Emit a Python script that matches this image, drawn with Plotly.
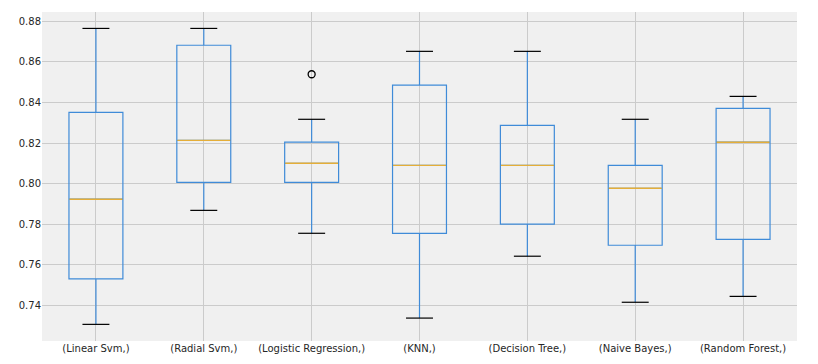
import plotly.graph_objects as go

categories = ["(Linear Svm,)", "(Radial Svm,)", "(Logistic Regression,)", "(KNN,)",
              "(Decision Tree,)", "(Naive Bayes,)", "(Random Forest,)"]
lower_whisker = [0.7306, 0.7868, 0.7755, 0.7337, 0.7642, 0.7415, 0.7444]
q1 = [0.7530, 0.8006, 0.8006, 0.7755, 0.7800, 0.7696, 0.7725]
median = [0.7923, 0.8213, 0.8100, 0.8090, 0.8090, 0.7977, 0.8204]
q3 = [0.8351, 0.8682, 0.8204, 0.8485, 0.8287, 0.8090, 0.8371]
upper_whisker = [0.8765, 0.8765, 0.8317, 0.8652, 0.8652, 0.8317, 0.8430]
outlier_cat = [2]
outlier_val = [0.8539]
yticks = [0.74, 0.76, 0.78, 0.80, 0.82, 0.84, 0.86, 0.88]

BLUE = "#3f8bd8"
ORANGE = "#e5ae38"
BOX_W = 0.5
CAP_W = 0.25

pos = list(range(1, len(categories) + 1))

fig = go.Figure()
fig.add_trace(go.Box(
    x=pos, q1=q1, median=median, q3=q3,
    lowerfence=lower_whisker, upperfence=upper_whisker,
    width=BOX_W, whiskerwidth=0,
    line=dict(color=BLUE, width=1.2),
    fillcolor="rgba(0,0,0,0)",
    boxpoints=False, showlegend=False, hoverinfo="skip",
))

# medians
mx, my = [], []
for p, m in zip(pos, median):
    mx += [p - BOX_W / 2 + 0.005, p + BOX_W / 2 - 0.005, None]
    my += [m, m, None]
fig.add_trace(go.Scatter(x=mx, y=my, mode="lines",
                         line=dict(color=ORANGE, width=1.4),
                         showlegend=False, hoverinfo="skip"))

# caps
cx, cy = [], []
for p, lo, hi in zip(pos, lower_whisker, upper_whisker):
    cx += [p - CAP_W / 2, p + CAP_W / 2, None, p - CAP_W / 2, p + CAP_W / 2, None]
    cy += [lo, lo, None, hi, hi, None]
fig.add_trace(go.Scatter(x=cx, y=cy, mode="lines",
                         line=dict(color="black", width=1.2),
                         showlegend=False, hoverinfo="skip"))

# outliers
fig.add_trace(go.Scatter(x=[pos[i] for i in outlier_cat], y=outlier_val, mode="markers",
                         marker=dict(symbol="circle-open", size=7,
                                     color="black", line=dict(width=1.3)),
                         showlegend=False, hoverinfo="skip"))

fig.update_layout(
    width=818, height=364,
    margin=dict(l=42, r=21, t=12, b=23, autoexpand=False),
    paper_bgcolor="white",
    plot_bgcolor="#f0f0f0",
    font=dict(family="DejaVu Sans", size=10, color="#262626"),
    showlegend=False,
)
fig.update_xaxes(
    range=[0.5, 7.5], tickvals=pos, ticktext=categories,
    showgrid=True, gridcolor="#cbcbcb", gridwidth=1,
    zeroline=False, showline=False, ticks="", ticklen=0,
    automargin=False,
)
fig.update_yaxes(
    range=[0.7224, 0.8846], tickvals=yticks,
    ticktext=[f"{v:.2f}" for v in yticks],
    showgrid=True, gridcolor="#cbcbcb", gridwidth=1,
    zeroline=False, showline=False, ticks="", ticklen=0,
    automargin=False,
)

fig.write_html("out.html", config={"displayModeBar": False},
               post_script="document.body.style.margin='0';")
